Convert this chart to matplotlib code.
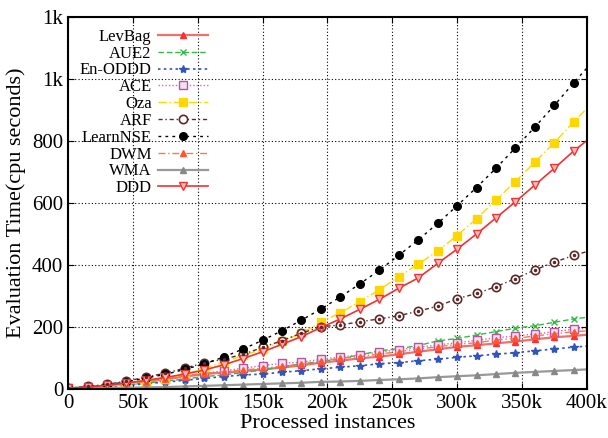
import matplotlib
matplotlib.use("Agg")
import matplotlib.pyplot as plt

plt.rcParams["font.family"] = ["Liberation Serif", "DejaVu Serif"]

# processed instances (k); markers every 15k, line runs on to 400k
x_k = [0, 15, 30, 45, 60, 75, 90, 105, 120, 135, 150, 165, 180, 195,
       210, 225, 240, 255, 270, 285, 300, 315, 330, 345, 360, 375, 390, 400]

levbag = [2, 6, 11, 17, 24, 31, 40, 48, 53, 57, 63, 69, 76, 85,
          91, 99, 104, 112, 120, 128, 136, 141, 147, 153, 160, 167, 171, 175]
aue2 = [2, 5, 9, 14, 19, 25, 32, 40, 45, 53, 61, 72, 81, 88,
        98, 110, 123, 130, 140, 155, 163, 174, 185, 196, 204, 215, 226, 231]
en_oddd = [2, 4, 8, 12, 17, 22, 28, 34, 40, 45, 48, 54, 59, 65,
           70, 75, 81, 85, 91, 96, 102, 107, 112, 117, 123, 129, 135, 138]
ace = [2, 6, 11, 18, 25, 33, 42, 51, 58, 67, 75, 83, 86, 96,
       103, 110, 119, 127, 134, 142, 149, 157, 165, 171, 177, 185, 193, 195]
oza = [1, 4, 9, 15, 23, 33, 47, 66, 87, 108, 128, 154, 180, 215,
       246, 282, 320, 362, 403, 445, 495, 549, 610, 669, 732, 795, 862, 905]
arf = [3, 8, 15, 25, 38, 51, 67, 84, 96, 112, 134, 156, 180, 201,
       206, 217, 226, 236, 251, 267, 291, 308, 330, 356, 384, 409, 431, 443]
learnnse = [2, 6, 13, 23, 35, 47, 63, 81, 103, 129, 157, 188, 222, 258,
            297, 339, 383, 431, 481, 534, 591, 650, 712, 778, 845, 915, 988, 1035]
dwm = [2, 6, 11, 17, 24, 32, 42, 50, 56, 61, 67, 73, 80, 90,
       99, 104, 113, 120, 129, 136, 144, 149, 158, 163, 171, 178, 185, 187]
wma = [1, 2, 3, 4, 5, 6, 8, 10, 12, 14, 16, 18, 20, 23,
       24, 26, 29, 31, 34, 38, 41, 44, 48, 52, 55, 58, 61, 63]
ddd = [2, 6, 12, 19, 28, 37, 48, 61, 78, 98, 120, 144, 169, 198,
       226, 257, 289, 325, 358, 405, 451, 500, 552, 604, 658, 712, 768, 801]

x = [v * 1000 for v in x_k]
marked = list(range(len(x) - 1))

series = [
    ("LevBag", levbag, dict(color="#f07070", ls="-", lw=1.6, marker="^", ms=5,
                            mfc="#ff3030", mec="#ff3030")),
    ("AUE2", aue2, dict(color="#33bb44", ls=(0, (4, 2)), lw=1.0, marker="x", ms=5,
                        mec="#33bb44")),
    ("En-ODDD", en_oddd, dict(color="#3355bb", ls=(0, (1.5, 2)), lw=1.2, marker="*", ms=6,
                              mfc="#3355bb", mec="#3355bb")),
    ("ACE", ace, dict(color="#cc66cc", ls=(0, (1, 1.5)), lw=1.0, marker="s", ms=5.5,
                      mfc="#f4dff4", mec="#b8559c")),
    ("Oza", oza, dict(color="#ffd700", ls=(0, (6, 2, 1, 2)), lw=1.0, marker="s", ms=6,
                      mfc="#ffd700", mec="#ffd700")),
    ("ARF", arf, dict(color="#5a2a2a", ls=(0, (3, 2, 1, 2)), lw=1.0, marker="o", ms=6,
                      mfc="white", mec="#5a2a2a", mew=1.2)),
    ("LearnNSE", learnnse, dict(color="black", ls=(0, (2, 3)), lw=1.0, marker="o", ms=5.5,
                                mfc="black", mec="black")),
    ("DWM", dwm, dict(color="#ff7744", ls=(0, (5, 2, 1, 2)), lw=1.0, marker="^", ms=5,
                      mfc="#ff5533", mec="#ff5533")),
    ("WMA", wma, dict(color="#999999", ls="-", lw=1.6, marker="^", ms=4,
                      mfc="#888888", mec="#888888")),
    ("DDD", ddd, dict(color="#ee3333", ls="-", lw=1.2, marker="v", ms=5.5,
                      mfc="#ffbbbb", mec="#ee3333")),
]

fig = plt.figure(figsize=(6.08, 4.38), dpi=100)
ax = fig.add_axes([0.112, 0.112, 0.853, 0.849])

for name, vals, style in series:
    ax.plot(x, vals, label=name, markevery=marked, **style)

# small dot inside the ARF circles
ax.plot(x[:-1], arf[:-1], ls="none", marker="o", ms=1.5, color="#5a2a2a")

ax.set_xlim(0, 400000)
ax.set_ylim(0, 1200)
ax.set_xticks([0, 50000, 100000, 150000, 200000, 250000, 300000, 350000, 400000])
ax.set_xticklabels(["0", "50k", "100k", "150k", "200k", "250k", "300k", "350k", "400k"])
ax.set_yticks([0, 200, 400, 600, 800, 1000, 1200])
ax.set_yticklabels(["0", "200", "400", "600", "800", "1k", "1k"])
ax.tick_params(direction="in", top=True, right=True, labelsize=15, length=4)
ax.grid(True, color="black", ls=(0, (1, 2)), lw=0.8)
for sp in ax.spines.values():
    sp.set_linewidth(1.5)

ax.set_xlabel("Processed instances", fontsize=16, labelpad=1)
ax.set_ylabel("Evaluation Time(cpu seconds)", fontsize=16, labelpad=4)

ax.legend(loc="upper left", bbox_to_anchor=(0.0, 1.0), frameon=False,
          markerfirst=False, fontsize=12, handlelength=3.0, labelspacing=0.05,
          borderaxespad=0.3, handletextpad=0.4)

plt.savefig("out.png", dpi=100)
